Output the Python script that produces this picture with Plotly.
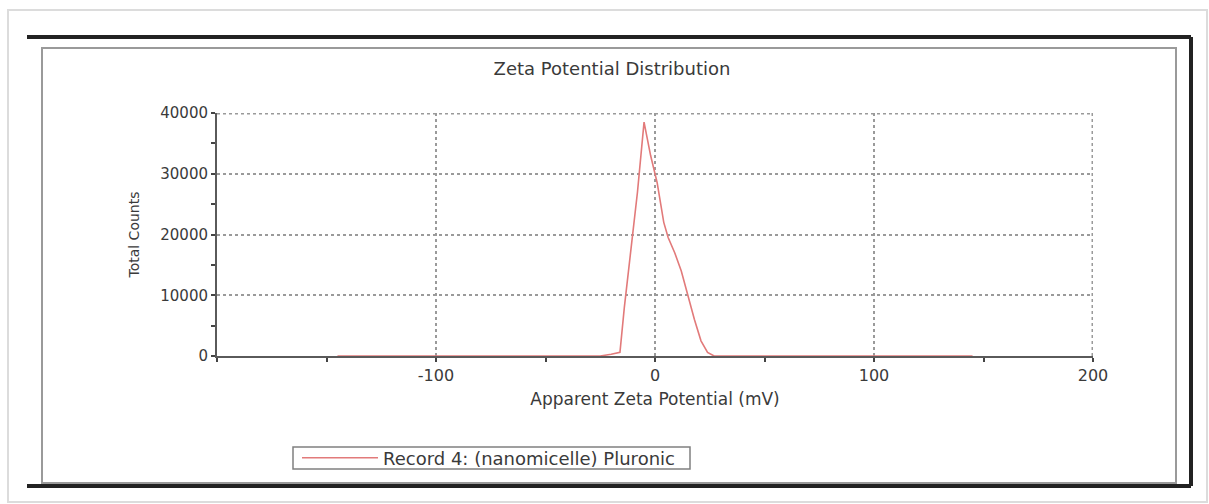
import plotly.graph_objects as go

# Data
zeta_mv = [-145, -25, -20, -16, -14, -11, -8, -5, -2, 1, 4, 6, 9, 12, 15, 18, 21, 24, 27, 145]
total_counts = [0, 0, 300, 600, 8000, 17000, 27000, 38500, 33000, 28500, 22000, 19500,
                17000, 14000, 10000, 6000, 2500, 600, 0, 0]
x_tick_vals = [-100, 0, 100, 200]
x_tick_text = ["-100", "0", "100", "200"]
x_minor_vals = [-200, -150, -50, 50, 150]
y_tick_vals = [0, 10000, 20000, 30000, 40000]
y_tick_text = ["0", "10000", "20000", "30000", "40000"]
y_minor_vals = [5000, 15000, 25000, 35000]
x_range = [-200, 200]
y_range = [0, 40000]
series_name = "Record 4: (nanomicelle) Pluronic"

W, H = 1209, 504
L, R, T, B = 217, 1093, 113, 356  # plot area in pixels


def px(X):
    return (X - L) / (R - L)


def py(Y):
    return (B - Y) / (B - T)


FONT = "DejaVu Sans"
TXT = "#3a3a3a"
GRID = dict(color="#9a9a9a", width=3, dash="dot")

fig = go.Figure()
fig.add_trace(go.Scatter(
    x=zeta_mv, y=total_counts, mode="lines", name=series_name,
    line=dict(color="#e27a7a", width=1.6),
    showlegend=True,
))

shapes = [
    # outer light frame
    dict(type="rect", xref="paper", yref="paper", x0=px(8), x1=px(1207), y0=py(502), y1=py(10),
         line=dict(color="#dcdcdc", width=2), layer="below"),
    # inner gray frame
    dict(type="rect", xref="paper", yref="paper", x0=px(42), x1=px(1176), y0=py(483), y1=py(48),
         line=dict(color="#9a9a9a", width=2), layer="below"),
    # thick black frame (top, right, bottom)
    dict(type="line", xref="paper", yref="paper", x0=px(27), x1=px(1191), y0=py(37), y1=py(37),
         line=dict(color="#222222", width=4)),
    dict(type="line", xref="paper", yref="paper", x0=px(1191), x1=px(1191), y0=py(37), y1=py(486),
         line=dict(color="#222222", width=4)),
    dict(type="line", xref="paper", yref="paper", x0=px(27), x1=px(1191), y0=py(486), y1=py(486),
         line=dict(color="#222222", width=4)),
    # legend box
    dict(type="rect", xref="paper", yref="paper", x0=px(293), x1=px(690), y0=py(469), y1=py(447),
         line=dict(color="#808080", width=1.5), fillcolor="white", layer="below"),
    # grid lines on the far edges of the plot (top and right)
    dict(type="line", xref="x", yref="y", x0=x_range[0], x1=x_range[1], y0=y_range[1], y1=y_range[1],
         line=GRID, layer="below"),
    dict(type="line", xref="x", yref="y", x0=x_range[1], x1=x_range[1], y0=y_range[0], y1=y_range[1],
         line=GRID, layer="below"),
]

fig.update_layout(
    width=W, height=H,
    margin=dict(l=L, r=W - R, t=T, b=H - B, pad=0),
    paper_bgcolor="white", plot_bgcolor="white",
    font=dict(family=FONT, size=16, color=TXT),
    title=dict(text="Zeta Potential Distribution", x=612 / W, xanchor="center",
               y=1 - 69 / H, yanchor="middle", font=dict(family=FONT, size=18, color=TXT)),
    shapes=shapes,
    legend=dict(x=px(297), y=py(458), xanchor="left", yanchor="middle",
                borderwidth=0, bgcolor="rgba(0,0,0,0)",
                font=dict(family=FONT, size=18, color=TXT), itemwidth=76),
    xaxis=dict(
        range=x_range, tickmode="array", tickvals=x_tick_vals, ticktext=x_tick_text,
        ticks="outside", ticklen=4, tickcolor="#444", tickwidth=1.5,
        tickfont=dict(family=FONT, size=16, color=TXT),
        showline=True, linecolor="#5a5a5a", linewidth=2, layer="below traces",
        showgrid=True, gridcolor="#9a9a9a", griddash="dot", gridwidth=1.5,
        zeroline=False,
        minor=dict(tickvals=x_minor_vals, ticks="outside", ticklen=4, tickcolor="#444", showgrid=False),
        title=dict(text="Apparent Zeta Potential (mV)", standoff=9,
                   font=dict(family=FONT, size=17, color=TXT)),
    ),
    yaxis=dict(
        range=y_range, tickmode="array", tickvals=y_tick_vals, ticktext=y_tick_text,
        ticks="outside", ticklen=4, tickcolor="#444", tickwidth=1.5,
        tickfont=dict(family=FONT, size=15, color=TXT),
        showline=True, linecolor="#5a5a5a", linewidth=2, layer="below traces",
        showgrid=True, gridcolor="#9a9a9a", griddash="dot", gridwidth=1.5,
        zeroline=False,
        minor=dict(tickvals=y_minor_vals, ticks="outside", ticklen=4, tickcolor="#444", showgrid=False),
        title=dict(text="Total Counts", standoff=17,
                   font=dict(family=FONT, size=14, color=TXT)),
    ),
)

fig.write_html("out.html")
